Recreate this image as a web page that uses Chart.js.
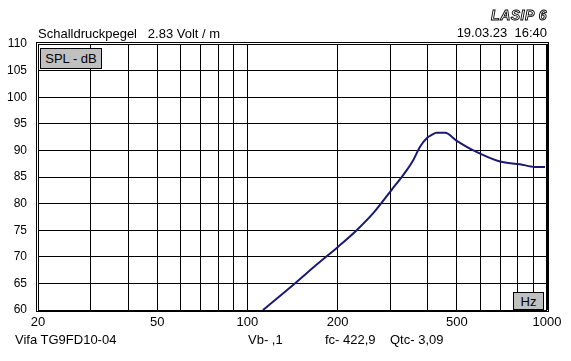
<!DOCTYPE html>
<html>
<head>
<meta charset="utf-8">
<script src="https://cdn.jsdelivr.net/npm/chart.js@4/dist/chart.umd.min.js"></script>
<style>
  html, body { margin: 0; padding: 0; background: #fff; overflow: hidden; }
  #wrap { position: relative; width: 571px; height: 361px; font-family: "Liberation Sans", Arial, sans-serif; color: #000; }
  #c { position: absolute; left: 0; top: 0; }
  .t { position: absolute; font-size: 13px; line-height: 13px; white-space: pre; }
  .box { position: absolute; box-sizing: border-box; background: #c0c0c0; border: 1px solid #000; font-size: 13px; line-height: 13px; text-align: center; }
  #logo { font-weight: bold; font-style: italic; color: #fff; -webkit-text-stroke: 0.9px #000; letter-spacing: 0.5px; }
</style>
</head>
<body>
<div id="wrap">
  <canvas id="c" width="571" height="361"></canvas>
  <div class="t" style="left:38px; top:27px;">Schalldruckpegel   2.83 Volt / m</div>
  <div class="t" id="logo" style="right:24px; top:9px; font-size:14px;">LASIP 6</div>
  <div class="t" style="right:24px; top:26px;">19.03.23  16:40</div>
  <div class="box" style="left:40px; top:48px; width:62px; height:21px; padding-top:3px;">SPL - dB</div>
  <div class="box" style="left:513px; top:292px; width:31px; height:18px; padding-top:2px;">Hz</div>
  <div class="t" style="left:15px; top:333px;">Vifa TG9FD10-04</div>
  <div class="t" style="left:248px; top:333px;">Vb- ,1</div>
  <div class="t" style="left:325px; top:333px;">fc- 422,9</div>
  <div class="t" style="left:390px; top:333px;">Qtc- 3,09</div>
</div>
<script>
// ---- data ----
const freqs = [112.7, 144, 170, 200.9, 231.6, 263, 303, 331.5, 358, 376.8, 396.8, 412, 428, 457, 500, 568, 697, 812, 912, 985];
const spl   = [60.0, 65.0, 68.5, 71.9, 75.0, 78.2, 82.6, 85.4, 88.2, 90.7, 92.3, 92.9, 93.3, 93.3, 91.8, 90.0, 87.9, 87.4, 86.9, 86.9];
const gridFreqs = [20, 30, 40, 50, 60, 70, 80, 90, 100, 200, 300, 400, 500, 600, 700, 800, 900, 1000];
const xTickLabels = [20, 50, 100, 200, 500, 1000];
const yMin = 60, yMax = 110, yStep = 5;

const points = freqs.map((f, i) => ({ x: f, y: spl[i] }));

const framePlugin = {
  id: 'frame',
  afterDraw(chart) {
    const a = chart.chartArea;
    const ctx = chart.ctx;
    ctx.save();
    ctx.strokeStyle = '#000';
    ctx.lineWidth = 1;
    ctx.strokeRect(a.left + 0.5, a.top + 0.5, a.right - a.left - 1, a.bottom - a.top);
    ctx.strokeRect(a.left - 1.5, a.top - 1.5, a.right - a.left + 3, a.bottom - a.top + 3);
    ctx.restore();
  }
};

new Chart(document.getElementById('c'), {
  type: 'scatter',
  data: {
    datasets: [{
      data: points,
      showLine: true,
      borderColor: '#1a1a72',
      backgroundColor: '#1a1a72',
      borderWidth: 2,
      pointRadius: 0,
      cubicInterpolationMode: 'monotone',
      clip: 0
    }]
  },
  options: {
    responsive: false,
    animation: false,
    devicePixelRatio: 1,
    layout: { padding: { left: 0, top: 44, right: 24, bottom: 0 } },
    plugins: { legend: { display: false }, title: { display: false }, tooltip: { enabled: false } },
    scales: {
      x: {
        type: 'logarithmic',
        min: 20, max: 1000,
        afterBuildTicks: (scale) => { scale.ticks = gridFreqs.map(v => ({ value: v })); },
        afterFit: (scale) => { scale.height = 51; },
        grid: { color: '#000', lineWidth: 1, drawTicks: false },
        border: { display: false },
        ticks: {
          autoSkip: false, maxRotation: 0, minRotation: 0, padding: 5,
          color: '#000',
          font: { family: '"Liberation Sans", Arial, sans-serif', size: 13 },
          callback: (v) => xTickLabels.includes(v) ? String(v) : ''
        }
      },
      y: {
        min: yMin, max: yMax,
        afterFit: (scale) => { scale.width = 38; },
        grid: { color: '#000', lineWidth: 1, drawTicks: false },
        border: { display: false },
        ticks: {
          stepSize: yStep, padding: 11, color: '#000',
          font: { family: '"Liberation Sans", Arial, sans-serif', size: 12 }
        }
      }
    }
  },
  plugins: [framePlugin]
});
</script>
</body>
</html>
